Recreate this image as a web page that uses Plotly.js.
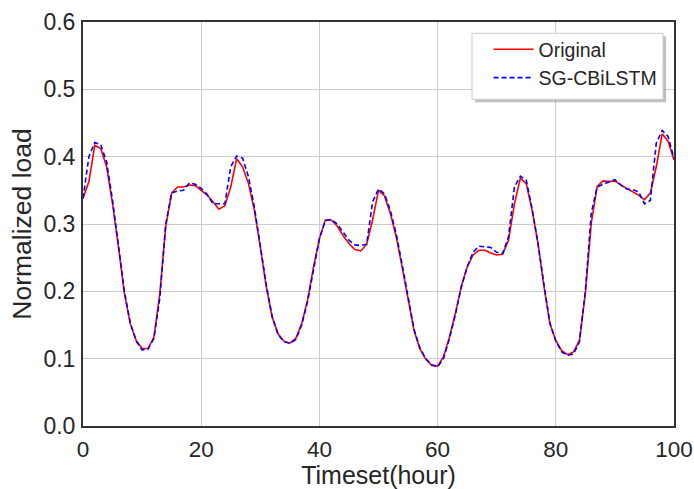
<!DOCTYPE html>
<html>
<head>
<meta charset="utf-8">
<script src="https://cdn.plot.ly/plotly-3.0.1.min.js"></script>
<style>html,body{margin:0;padding:0;background:#fff;}#chart{width:694px;height:489px;}</style>
</head>
<body>
<div id="chart"></div>
<script>
// Timeset (hour)
const hours = [0,1,2,3,4,5,6,7,8,9,10,11,12,13,14,15,16,17,18,19,20,21,22,23,24,25,26,27,28,29,30,31,32,33,34,35,36,37,38,39,40,41,42,43,44,45,46,47,48,49,50,51,52,53,54,55,56,57,58,59,60,61,62,63,64,65,66,67,68,69,70,71,72,73,74,75,76,77,78,79,80,81,82,83,84,85,86,87,88,89,90,91,92,93,94,95,96,97,98,99,100];

// Original normalized load
const original = [0.338,0.363,0.417,0.412,0.385,0.330,0.266,0.197,0.152,0.127,0.115,0.115,0.132,0.197,0.296,0.346,0.355,0.355,0.358,0.357,0.350,0.343,0.333,0.322,0.327,0.355,0.397,0.385,0.360,0.320,0.266,0.207,0.162,0.137,0.126,0.123,0.130,0.152,0.187,0.236,0.278,0.306,0.306,0.297,0.283,0.271,0.262,0.260,0.270,0.306,0.350,0.342,0.316,0.281,0.236,0.187,0.142,0.115,0.099,0.090,0.089,0.103,0.132,0.167,0.207,0.236,0.254,0.261,0.261,0.257,0.254,0.255,0.276,0.330,0.368,0.360,0.320,0.271,0.207,0.152,0.127,0.112,0.106,0.110,0.127,0.197,0.301,0.356,0.364,0.363,0.364,0.358,0.353,0.349,0.343,0.336,0.346,0.385,0.434,0.423,0.395];

// SG-CBiLSTM prediction
const predicted = [0.338,0.400,0.421,0.418,0.392,0.335,0.268,0.200,0.153,0.126,0.113,0.114,0.130,0.190,0.300,0.346,0.349,0.350,0.361,0.359,0.353,0.344,0.330,0.330,0.330,0.385,0.401,0.398,0.370,0.325,0.268,0.210,0.163,0.136,0.125,0.123,0.128,0.150,0.185,0.234,0.278,0.305,0.307,0.300,0.288,0.276,0.269,0.268,0.270,0.333,0.352,0.345,0.320,0.285,0.240,0.190,0.144,0.116,0.100,0.091,0.088,0.100,0.130,0.165,0.206,0.236,0.258,0.267,0.266,0.265,0.258,0.256,0.281,0.355,0.371,0.365,0.322,0.270,0.210,0.153,0.126,0.110,0.105,0.107,0.125,0.200,0.316,0.355,0.359,0.363,0.366,0.358,0.352,0.351,0.348,0.330,0.335,0.420,0.439,0.430,0.397];

const seriesNames = ["Original", "SG-CBiLSTM"];
const xTicks = [0,20,40,60,80,100];
const yTicks = [0.0,0.1,0.2,0.3,0.4,0.5,0.6];

const FONT = "Liberation Sans, Arial, sans-serif";
const TXT = "#262626";

const traces = [
  {x: hours, y: original, name: seriesNames[0], type: "scatter", mode: "lines",
   line: {color: "#ff0000", width: 1.6}},
  {x: hours, y: predicted, name: seriesNames[1], type: "scatter", mode: "lines",
   line: {color: "#0000ff", width: 1.6, dash: "5px,3px"}}
];

const axisCommon = {
  showline: true, linecolor: "#333333", linewidth: 2, mirror: true,
  showgrid: true, gridcolor: "#cccccc", gridwidth: 1,
  zeroline: false, ticks: ""
};

const layout = {
  width: 694, height: 489,
  margin: {l: 83, r: 20, t: 22, b: 63, pad: 0},
  paper_bgcolor: "#ffffff", plot_bgcolor: "#ffffff",
  font: {family: FONT, color: TXT},
  showlegend: true,
  xaxis: Object.assign({}, axisCommon, {
    range: [0, 100], tickvals: xTicks, ticktext: xTicks.map(String),
    ticklabelstandoff: 2,
    tickfont: {family: FONT, size: 22.5, color: TXT},
    title: {text: "Timeset(hour)", font: {family: FONT, size: 25, color: TXT}, standoff: 10}
  }),
  yaxis: Object.assign({}, axisCommon, {
    range: [0, 0.6], tickvals: yTicks, ticktext: yTicks.map(v => v.toFixed(1)),
    ticklabelstandoff: 1,
    tickfont: {family: FONT, size: 23, color: TXT},
    title: {text: "Normalized load", font: {family: FONT, size: 26.5, color: TXT}, standoff: 4}
  }),
  legend: {
    x: 0.9807, xanchor: "right", y: 0.98, yanchor: "top",
    bgcolor: "rgba(0,0,0,0)", borderwidth: 0,
    font: {family: FONT, size: 19.5, color: TXT},
    itemwidth: 40
  },
  shapes: [
    // legend frame shadow
    {type: "rect", xref: "paper", yref: "paper", layer: "above",
     x0: 0.6633, x1: 0.9865, y0: 0.8012, y1: 0.9646,
     fillcolor: "#8c8c8c", opacity: 0.55, line: {width: 0}},
    // legend frame
    {type: "rect", xref: "paper", yref: "paper", layer: "above",
     x0: 0.6582, x1: 0.9814, y0: 0.8087, y1: 0.972,
     fillcolor: "#ffffff", line: {color: "#cccccc", width: 1}}
  ]
};

Plotly.newPlot("chart", traces, layout, {displayModeBar: false, staticPlot: true});
</script>
</body>
</html>
